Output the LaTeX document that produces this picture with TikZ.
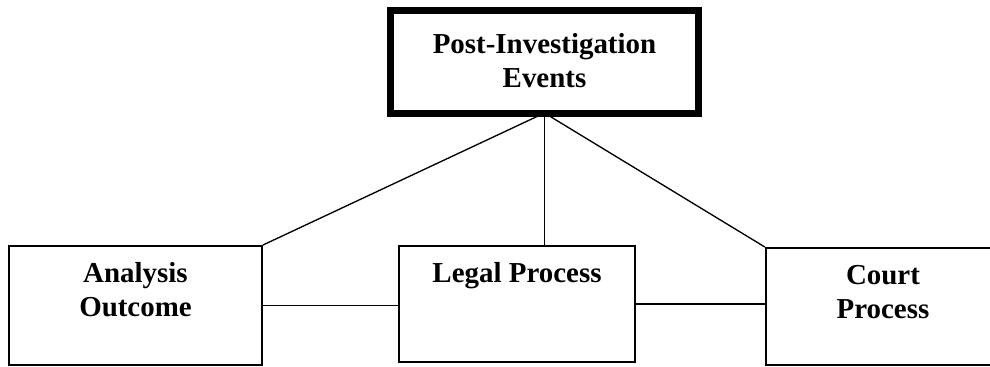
\documentclass[tikz,border=0pt]{standalone}
\usepackage{fontspec}
\setmainfont{Liberation Serif}
\usetikzlibrary{positioning}

\tikzset{
  box/.style={draw=black, line width=1.7pt, fill=white, inner sep=0pt},
  mainbox/.style={box, line width=5.25pt},
  boxtext/.style={align=center, inner sep=0pt, anchor=base,
    font=\fontsize{21.7}{25.5}\selectfont\bfseries},
  link/.style={draw=black, line width=1pt}
}

\begin{document}
\begin{tikzpicture}[x=0.75pt, y=-0.75pt]
\useasboundingbox (0,0) rectangle (990,367);
\clip (0,0) rectangle (990,367);
% boxes
\node[mainbox, minimum width=231pt, minimum height=77.25pt] (events) at (544.5,62) {};
\node[box, minimum width=189.5pt, minimum height=89pt] (analysis) at (135.5,305.5) {};
\node[box, minimum width=176.7pt, minimum height=86.7pt] (legal) at (517,304) {};
\node[box, minimum width=175.5pt, minimum height=87.5pt] (court) at (883,306.5) {};
% labels
\node[boxtext] (eventstext) at (544.5,88) {Post-Investigation\\Events};
\node[boxtext] (analysistext) at (135.5,317) {Analysis\\Outcome};
\node[boxtext] (legaltext) at (517,283) {Legal Process};
\node[boxtext] (courttext) at (883,319) {Court\\Process};
% connectors
\coordinate (hub) at (544.5,113);
\draw[link] (hub) -- (analysis.north east);
\draw[link] (hub) -- (hub |- legal.north);
\draw[link] (hub) -- (court.north west);
\draw[link] (analysis.east) -- (analysis.east -| legal.west);
\draw[link] (legal.east) -- (legal.east -| court.west);
\end{tikzpicture}
\end{document}
